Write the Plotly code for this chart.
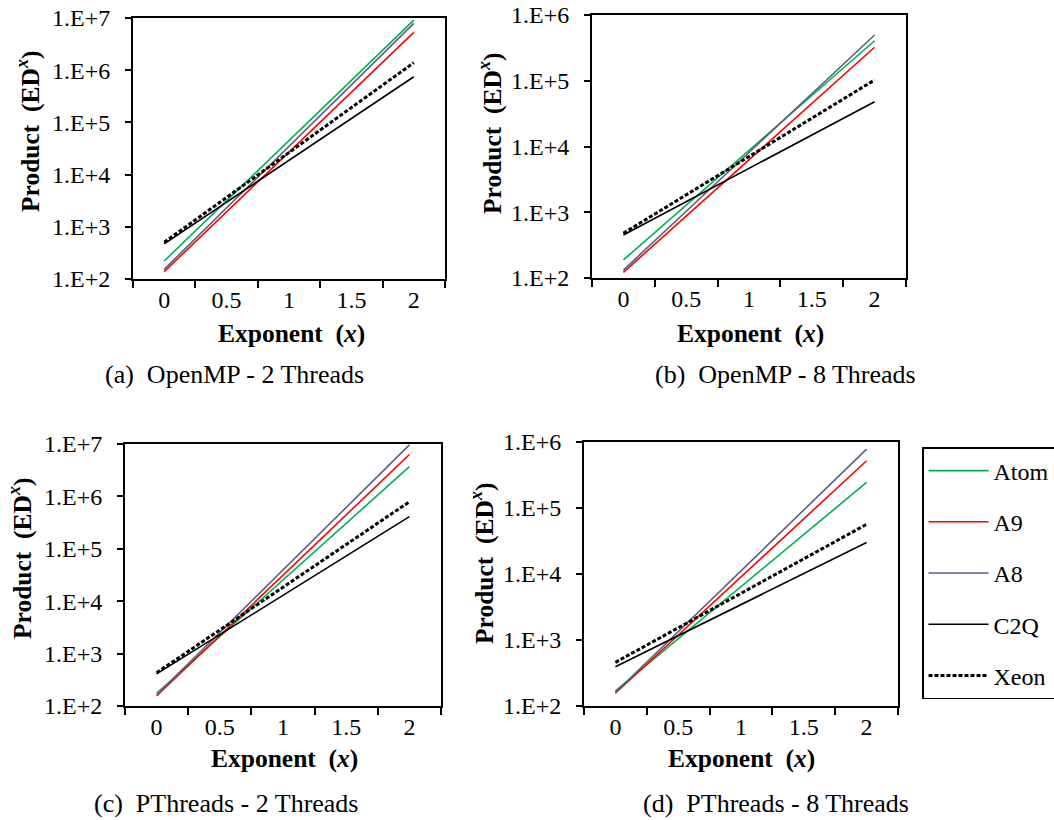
import plotly.graph_objects as go

W, H = 1054, 820
FONT = "Liberation Serif"

# ---------------- data ----------------
series = ["Atom", "A9", "A8", "C2Q", "Xeon"]
exponent = [0, 2]

# Product (ED^x) at x = 0 and x = 2
openmp_2 = {
    "Atom": [221, 9.1e6],
    "A9":   [138, 5.3e6],
    "A8":   [153, 7.9e6],
    "C2Q":  [470, 7.5e5],
    "Xeon": [505, 1.39e6],
}
openmp_8 = {
    "Atom": [188, 4.06e5],
    "A9":   [122, 3.23e5],
    "A8":   [132, 4.97e5],
    "C2Q":  [450, 4.8e4],
    "Xeon": [480, 1.03e5],
}
pthreads_2 = {
    "Atom": [175, 3.69e6],
    "A9":   [155, 6.3e6],
    "A8":   [162, 9.6e6],
    "C2Q":  [410, 4.1e5],
    "Xeon": [432, 7.9e5],
}
pthreads_8 = {
    "Atom": [169, 2.45e5],
    "A9":   [156, 5.2e5],
    "A8":   [160, 7.8e5],
    "C2Q":  [394, 3.0e4],
    "Xeon": [459, 5.66e4],
}

captions = ["(a)\u00a0 OpenMP - 2 Threads", "(b)\u00a0 OpenMP - 8 Threads",
            "(c)\u00a0 PThreads - 2 Threads", "(d)\u00a0 PThreads - 8 Threads"]
x_tick_vals = [0, 0.5, 1, 1.5, 2]
x_tick_text = ["0", "0.5", "1", "1.5", "2"]
x_minor_ticks = [-0.25, 0.25, 0.75, 1.25, 1.75, 2.25]

styles = {
    "Atom": dict(color="#00B050", width=1.6),
    "A9":   dict(color="#FF0000", width=1.6),
    "A8":   dict(color="#56617C", width=1.6),
    "C2Q":  dict(color="#000000", width=1.6),
    "Xeon": dict(color="#000000", width=3, dash="4px,2px"),
}

# panel layout in pixels: (x0, x1, ytop, ybottom), y log range, caption/title positions
panels = [
    dict(data=openmp_2, box=(133, 445, 18, 279), yr=(2, 7),
         cap=(234, 375), xt=(291, 333), yt=(28, 132)),
    dict(data=openmp_8, box=(592, 906, 15, 278), yr=(2, 6),
         cap=(785, 375), xt=(750, 333), yt=(490, 134)),
    dict(data=pthreads_2, box=(125, 441, 444, 706), yr=(2, 7),
         cap=(226, 803), xt=(284, 758), yt=(20, 559)),
    dict(data=pthreads_8, box=(584, 898, 442, 706), yr=(2, 6),
         cap=(776, 803), xt=(741, 758), yt=(482, 563)),
]


def px(x):
    return x / W


def py(y):
    return 1 - y / H


fig = go.Figure()
annotations = []
layout_axes = {}

for i, p in enumerate(panels):
    n = "" if i == 0 else str(i + 1)
    xa, ya = "x" + n, "y" + n
    for s in series:
        fig.add_trace(go.Scatter(
            x=exponent, y=p["data"][s], mode="lines", name=s,
            line=styles[s], xaxis=xa, yaxis=ya,
            showlegend=(i == 3), legendgroup=s,
        ))
    x0, x1, yt0, yb0 = p["box"]
    lo, hi = p["yr"]
    layout_axes["xaxis" + n] = dict(
        domain=[px(x0), px(x1)], anchor=ya, range=[-0.25, 2.25],
        automargin=False,
        tickmode="array", tickvals=x_tick_vals, ticktext=x_tick_text,
        ticks="", showgrid=False, zeroline=False,
        showline=True, linecolor="black", linewidth=2, mirror=True,
        tickfont=dict(family=FONT, size=24, color="black"),
        ticklabelstandoff=-2,
        minor=dict(tickmode="array", tickvals=x_minor_ticks, ticks="outside",
                   ticklen=7, tickwidth=2, tickcolor="black", showgrid=False),
    )
    yvals = [10 ** k for k in range(lo, hi + 1)]
    layout_axes["yaxis" + n] = dict(
        domain=[py(yb0), py(yt0)], anchor=xa, type="log", range=[lo, hi],
        automargin=False,
        tickmode="array", tickvals=yvals,
        ticktext=["1.E+%d" % k for k in range(lo, hi + 1)],
        ticks="outside", ticklen=6, tickwidth=2, tickcolor="black",
        showgrid=False, zeroline=False,
        showline=True, linecolor="black", linewidth=2, mirror=True,
        tickfont=dict(family=FONT, size=24, color="black"),
        ticklabelstandoff=10,
    )
    annotations.append(dict(
        x=px(p["cap"][0]), y=py(p["cap"][1]), xref="paper", yref="paper",
        text=captions[i], showarrow=False, xanchor="center", yanchor="middle",
        font=dict(family=FONT, size=26, color="black")))
    annotations.append(dict(
        x=px(p["xt"][0]), y=py(p["xt"][1]), xref="paper", yref="paper",
        text="<b>Exponent\u00a0 (<i>x</i>)</b>", showarrow=False,
        xanchor="center", yanchor="middle",
        font=dict(family=FONT, size=25.5, color="black")))
    annotations.append(dict(
        x=px(p["yt"][0]), y=py(p["yt"][1]), xref="paper", yref="paper",
        text="<b>Product\u00a0 (ED<sup><i>x</i></sup>)</b>", showarrow=False,
        textangle=-90, xanchor="center", yanchor="middle",
        font=dict(family=FONT, size=25.5, color="black")))

fig.update_layout(
    template="none",
    width=W, height=H,
    autosize=False,
    margin=dict(l=0, r=0, t=0, b=0, pad=0, autoexpand=False),
    paper_bgcolor="white", plot_bgcolor="white",
    font=dict(family=FONT, color="black"),
    annotations=annotations,
    legend=dict(
        x=px(922), y=py(447), xanchor="left", yanchor="top",
        bordercolor="black", borderwidth=1.5, bgcolor="white",
        font=dict(family=FONT, size=24, color="black"),
        tracegroupgap=17, itemwidth=60,
    ),
    **layout_axes,
)

fig.write_html("out.html", config={"displayModeBar": False},
               post_script="document.body.style.margin='0';document.body.style.overflow='hidden';")
